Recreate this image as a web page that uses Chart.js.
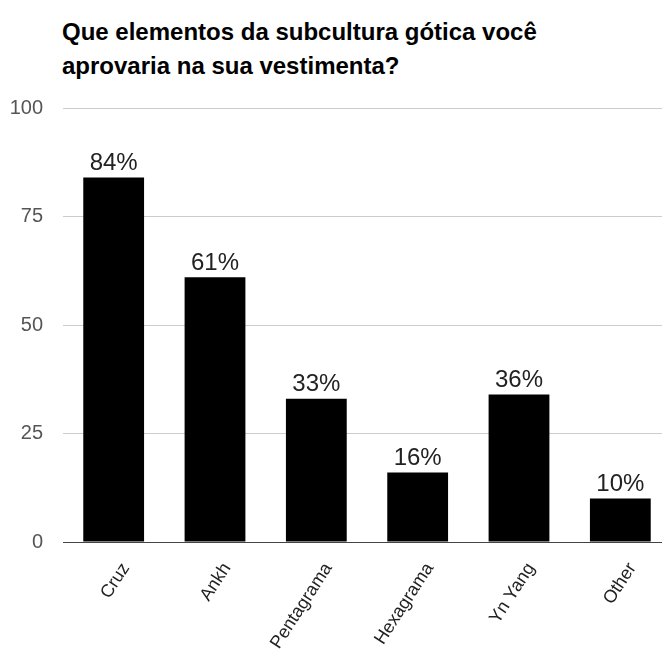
<!DOCTYPE html>
<html lang="pt">
<head>
  <meta charset="UTF-8">
  <title>Subcultura gótica</title>
  <script src="https://cdn.jsdelivr.net/npm/chart.js"></script>
  <style>
    html, body { margin: 0; padding: 0; width: 662px; height: 654px; overflow: hidden; background: #fff; }
    #titulo {
      position: absolute; left: 62px; top: 15px;
      font: bold 24px Arial, "Liberation Sans", sans-serif;
      line-height: 34px; color: #000;
    }
    #grafico { position: absolute; left: 0; top: 0; }
  </style>
</head>
<body>
  <div id="titulo">Que elementos da subcultura gótica você<br>aprovaria na sua vestimenta?</div>
  <canvas id="grafico" width="672" height="654"></canvas>

  <script>
    // Dados
    const categorias = ['Cruz', 'Ankh', 'Pentagrama', 'Hexagrama', 'Yn Yang', 'Other'];
    const valores = [84, 61, 33, 16, 34, 10];
    const rotulos = ['84%', '61%', '33%', '16%', '36%', '10%'];
    const ticksY = [0, 25, 50, 75, 100];

    const fonte = 'Arial, "Liberation Sans", sans-serif';

    // rótulos em cima das barras
    const rotulosBarras = {
      id: 'rotulosBarras',
      afterDatasetsDraw(chart) {
        const ctx = chart.ctx;
        const meta = chart.getDatasetMeta(0);
        ctx.save();
        ctx.font = '24px ' + fonte;
        ctx.fillStyle = '#222';
        ctx.textAlign = 'center';
        ctx.textBaseline = 'bottom';
        meta.data.forEach((barra, i) => {
          ctx.fillText(rotulos[i], barra.x, barra.y - 2);
        });
        ctx.restore();
      }
    };

    const ctx = document.getElementById('grafico').getContext('2d');
    new Chart(ctx, {
      type: 'bar',
      data: {
        labels: categorias,
        datasets: [{
          data: valores,
          backgroundColor: '#000',
          barPercentage: 0.6,
          categoryPercentage: 1
        }]
      },
      options: {
        responsive: false,
        animation: false,
        layout: { padding: { top: 108, left: 0, right: 1, bottom: 0 } },
        plugins: {
          legend: { display: false },
          tooltip: { enabled: false }
        },
        scales: {
          x: {
            grid: { display: false },
            border: { display: false },
            ticks: {
              autoSkip: false,
              maxRotation: 57,
              minRotation: 57,
              padding: 9,
              labelOffset: 12,
              color: '#222',
              font: { family: fonte, size: 18 }
            },
            afterFit(scale) { scale.height = 112; }
          },
          y: {
            min: 0,
            max: 100,
            afterBuildTicks(scale) { scale.ticks = ticksY.map(v => ({ value: v })); },
            grid: {
              drawTicks: false,
              color: c => c.tick && c.tick.value === 0 ? '#444' : '#ccc',
              lineWidth: 1
            },
            border: { display: false },
            ticks: {
              padding: 20,
              color: '#555',
              font: { family: fonte, size: 20 }
            },
            afterFit(scale) { scale.width = 63; }
          }
        }
      },
      plugins: [rotulosBarras]
    });
  </script>
</body>
</html>
